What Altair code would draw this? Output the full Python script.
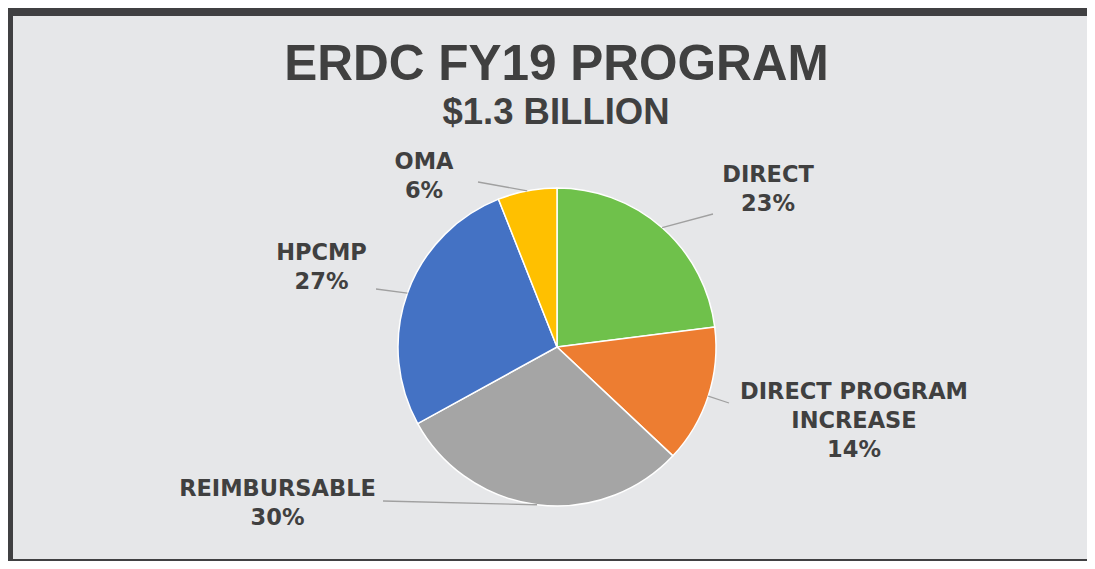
import altair as alt
import pandas as pd

# ---- data ----
categories = ["DIRECT", "DIRECT PROGRAM INCREASE", "REIMBURSABLE", "HPCMP", "OMA"]
shares = [23, 14, 30, 27, 6]
label_texts = ["DIRECT\n23%", "DIRECT PROGRAM\nINCREASE\n14%", "REIMBURSABLE\n30%", "HPCMP\n27%", "OMA\n6%"]
title_text = "ERDC FY19 PROGRAM"
subtitle_text = "$1.3 BILLION"

# ---- style / layout ----
slice_colors = ["#6FC14B", "#ED7D31", "#A5A5A5", "#4472C4", "#FFC000"]
W, H = 1079, 553
CX, CY, R = 549, 339, 159
BG = "#E6E7E9"
DARK = "#404042"
TEXT = "#404040"
# label anchor (text centre x, first baseline y) and leader-line end, in canvas pixels
label_x = [760, 846, 269.5, 313.5, 416]
label_y = [174, 391, 488, 252, 161]
leader_end_x = [705, 721, 375, 368, 470]
leader_end_y = [206, 395, 493, 281, 174]

df = pd.DataFrame({
    "category": categories,
    "share": shares,
    "order": list(range(len(categories))),
    "label": label_texts,
    "lx": label_x,
    "ly": label_y,
    "ex": leader_end_x,
    "ey": leader_end_y,
})

xs = alt.Scale(domain=[0, W], nice=False, zero=False)
ys = alt.Scale(domain=[0, H], nice=False, zero=False, reverse=True)

pie = alt.Chart(df).mark_arc(radius=R, stroke="white", strokeWidth=1.5).encode(
    theta=alt.Theta("share:Q", stack=True),
    color=alt.Color("category:N", scale=alt.Scale(domain=categories, range=slice_colors), legend=None),
    order=alt.Order("order:Q"),
    x=alt.value(CX),
    y=alt.value(CY),
)

leaders = alt.Chart(df).transform_joinaggregate(
    total="sum(share)"
).transform_window(
    cum="sum(share)", sort=[alt.SortField("order")]
).transform_calculate(
    mid="(datum.cum - datum.share / 2) / datum.total * 2 * PI",
    sx=f"{CX} + {R} * sin(datum.mid)",
    sy=f"{CY} - {R} * cos(datum.mid)",
).mark_rule(color="#A0A0A0", strokeWidth=1.3).encode(
    x=alt.X("sx:Q", scale=xs, axis=None),
    y=alt.Y("sy:Q", scale=ys, axis=None),
    x2="ex:Q",
    y2="ey:Q",
)

labels = alt.Chart(df).mark_text(
    font="DejaVu Sans", fontWeight="bold", fontSize=22.5, color=TEXT,
    align="center", baseline="alphabetic", lineBreak="\n", lineHeight=29,
).encode(
    x=alt.X("lx:Q", scale=xs, axis=None),
    y=alt.Y("ly:Q", scale=ys, axis=None),
    text="label:N",
)

title_df = pd.DataFrame({"t": [title_text]})
sub_df = pd.DataFrame({"t": [subtitle_text]})
title = alt.Chart(title_df).mark_text(
    font="Liberation Sans", fontWeight="bold", fontSize=49.5, color=TEXT,
    align="center", baseline="alphabetic",
).encode(x=alt.value(548.5), y=alt.value(72), text="t:N")
subtitle = alt.Chart(sub_df).mark_text(
    font="Liberation Sans", fontWeight="bold", fontSize=36.5, color=TEXT,
    align="center", baseline="alphabetic",
).encode(x=alt.value(548), y=alt.value(116), text="t:N")

top_band = alt.Chart(title_df).mark_rect(color=DARK).encode(
    x=alt.value(0), x2=alt.value(W), y=alt.value(0), y2=alt.value(8))
left_band = alt.Chart(title_df).mark_rect(color=DARK).encode(
    x=alt.value(0), x2=alt.value(5), y=alt.value(0), y2=alt.value(H))
bottom_band = alt.Chart(title_df).mark_rect(color=DARK).encode(
    x=alt.value(0), x2=alt.value(W), y=alt.value(H - 2), y2=alt.value(H))

chart = alt.layer(
    pie, leaders, labels, title, subtitle, top_band, left_band, bottom_band
).properties(
    width=W, height=H, background=BG, padding=0,
    autosize=alt.AutoSizeParams(type="none"),
).configure_view(stroke=None)

chart.save("out.html", embed_options={"renderer": "svg", "actions": False})
